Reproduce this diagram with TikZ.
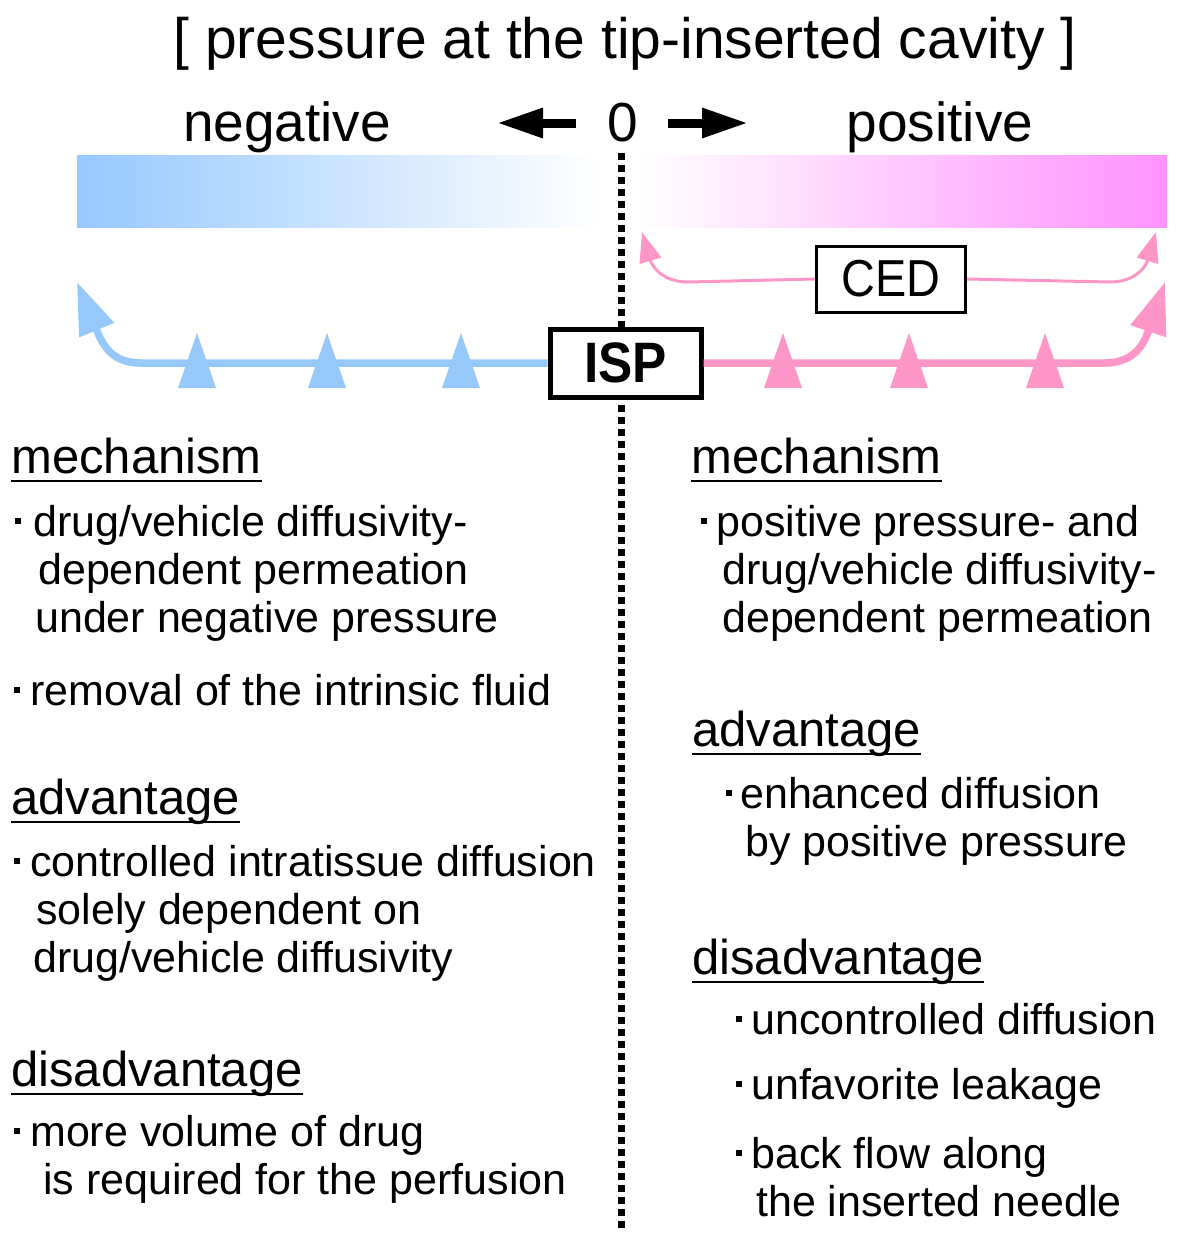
\documentclass[tikz,border=0pt]{standalone}
\usepackage{fontspec}
\setmainfont{Liberation Sans}
\usetikzlibrary{arrows.meta}
\definecolor{bluel}{RGB}{150,200,250}
\definecolor{pinkl}{RGB}{255,150,200}
\definecolor{barblue}{RGB}{150,200,255}
\definecolor{barpink}{RGB}{255,145,255}
\tikzset{
  ttl/.style={anchor=base, inner sep=0pt, font=\fontsize{57}{60}\selectfont},
  side/.style={anchor=base, inner sep=0pt, font=\fontsize{55}{60}\selectfont},
  head/.style={anchor=base west, inner sep=0pt, font=\fontsize{49}{54}\selectfont},
  body/.style={anchor=base west, inner sep=0pt, font=\fontsize{43}{48}\selectfont},
  bul/.style={fill=black, inner sep=0pt, minimum size=6.5pt, draw=none},
  blk/.style={line width=9pt, -{Triangle[length=46pt,width=28pt]}},
  bigblue/.style={bluel, line width=7.5pt, -{Triangle[length=52pt,width=36pt]}},
  bigpink/.style={pinkl, line width=7.5pt, -{Triangle[length=52pt,width=36pt]}},
  thinpink/.style={pinkl, line width=3pt, -{Triangle[length=30pt,width=22pt]}},
  ul/.style={line width=2pt}
}
\begin{document}
\begin{tikzpicture}[x=1pt,y=-1pt]
\useasboundingbox (0,0) rectangle (1181,1248);

% title
\node[ttl] (title) at (625,58) {[ pressure at the tip-inserted cavity ]};
\node[side] (neg) at (287,141) {negative};
\node[side] (pos) at (940,141) {positive};
\node[side] (zero) at (623,141) {0};
\coordinate (la1) at (576,123); \coordinate (la2) at (497,123);
\coordinate (ra1) at (668,123); \coordinate (ra2) at (748,123);
\draw[blk] (la1) -- (la2);
\draw[blk] (ra1) -- (ra2);

% gradient bars
\shade[left color=barblue, right color=white] (77,155) rectangle (600,227);
\shade[left color=white, right color=barpink] (638,155) rectangle (1167,227);

% dotted divider
\coordinate (dtop) at (621,153);
\coordinate (dbot) at (621,1232);
\draw[line width=7pt, dash pattern=on 6.5pt off 5.5pt] (dtop) -- (dbot);

% boxes
\node[draw, line width=5pt, fill=white, minimum width=151pt, minimum height=68pt, inner sep=0pt,
      font=\fontsize{57}{60}\selectfont\bfseries\addfontfeature{FakeStretch=0.9}] (isp) at (625.5,363) {ISP};
\node[draw, line width=3pt, fill=white, minimum width=149pt, minimum height=66pt, inner sep=0pt,
      font=\fontsize{52}{56}\selectfont\addfontfeature{FakeStretch=0.9}] (ced) at (891,279) {CED};

% ISP arrows
\coordinate (btip) at (77,282);
\coordinate (ptip) at (1165,282);
\draw[bigblue] (isp.west) -- (140,363) .. controls (108,363) and (100,338) .. (btip);
\draw[bigpink] (isp.east) -- (1105,363) .. controls (1138,363) and (1146,338) .. (ptip);
\foreach \x in {197,327,461}
  \fill[bluel] (\x-19,388) -- (\x,333) -- (\x+19,388) -- cycle;
\foreach \x in {783,909,1045}
  \fill[pinkl] (\x-19,388) -- (\x,333) -- (\x+19,388) -- cycle;

% CED arrows
\coordinate (ctl) at (642,232);
\coordinate (ctr) at (1156,232);
\draw[thinpink] (ced.west) -- (688,282) .. controls (662,282) and (652,266) .. (ctl);
\draw[thinpink] (ced.east) -- (1110,282) .. controls (1136,282) and (1146,266) .. (ctr);

% ---------- left column ----------
\node[head] (lh1) at (11,473) {mechanism};
\draw[ul] ([yshift=-8pt]lh1.base west) -- ([yshift=-8pt]lh1.base east);
\node[bul] (lb1) at (18,521) {};
\node[body] (l11) at (33,536) {drug/vehicle diffusivity-};
\node[body] (l12) at (38,584) {dependent permeation};
\node[body] (l13) at (35,632) {under negative pressure};
\node[bul] (lb2) at (17,690) {};
\node[body] (l21) at (30,705) {removal of the intrinsic fluid};

\node[head] (lh2) at (11,814) {advantage};
\draw[ul] ([yshift=-8pt]lh2.base west) -- ([yshift=-8pt]lh2.base east);
\node[bul] (lb3) at (17,861) {};
\node[body] (l31) at (30,876) {controlled intratissue diffusion};
\node[body] (l32) at (36,924) {solely dependent on};
\node[body] (l33) at (33,972) {drug/vehicle diffusivity};

\node[head] (lh3) at (11,1086) {disadvantage};
\draw[ul] ([yshift=-8pt]lh3.base west) -- ([yshift=-8pt]lh3.base east);
\node[bul] (lb4) at (17,1131) {};
\node[body] (l41) at (30,1146) {more volume of drug};
\node[body] (l42) at (43,1194) {is required for the perfusion};

% ---------- right column ----------
\node[head] (rh1) at (691,473) {mechanism};
\draw[ul] ([yshift=-8pt]rh1.base west) -- ([yshift=-8pt]rh1.base east);
\node[bul] (rb1) at (704,521) {};
\node[body] (r11) at (716,536) {positive pressure- and};
\node[body] (r12) at (722,584) {drug/vehicle diffusivity-};
\node[body] (r13) at (722,632) {dependent permeation};

\node[head] (rh2) at (692,746) {advantage};
\draw[ul] ([yshift=-8pt]rh2.base west) -- ([yshift=-8pt]rh2.base east);
\node[bul] (rb2) at (729,793) {};
\node[body] (r21) at (740,808) {enhanced diffusion};
\node[body] (r22) at (745,856) {by positive pressure};

\node[head] (rh3) at (692,974) {disadvantage};
\draw[ul] ([yshift=-8pt]rh3.base west) -- ([yshift=-8pt]rh3.base east);
\node[bul] (rb3) at (739,1019) {};
\node[body] (r31) at (751,1034) {uncontrolled diffusion};
\node[bul] (rb4) at (739,1084) {};
\node[body] (r41) at (751,1099) {unfavorite leakage};
\node[bul] (rb5) at (739,1153) {};
\node[body] (r51) at (751,1168) {back flow along};
\node[body] (r52) at (756,1216) {the inserted needle};
\end{tikzpicture}
\end{document}
